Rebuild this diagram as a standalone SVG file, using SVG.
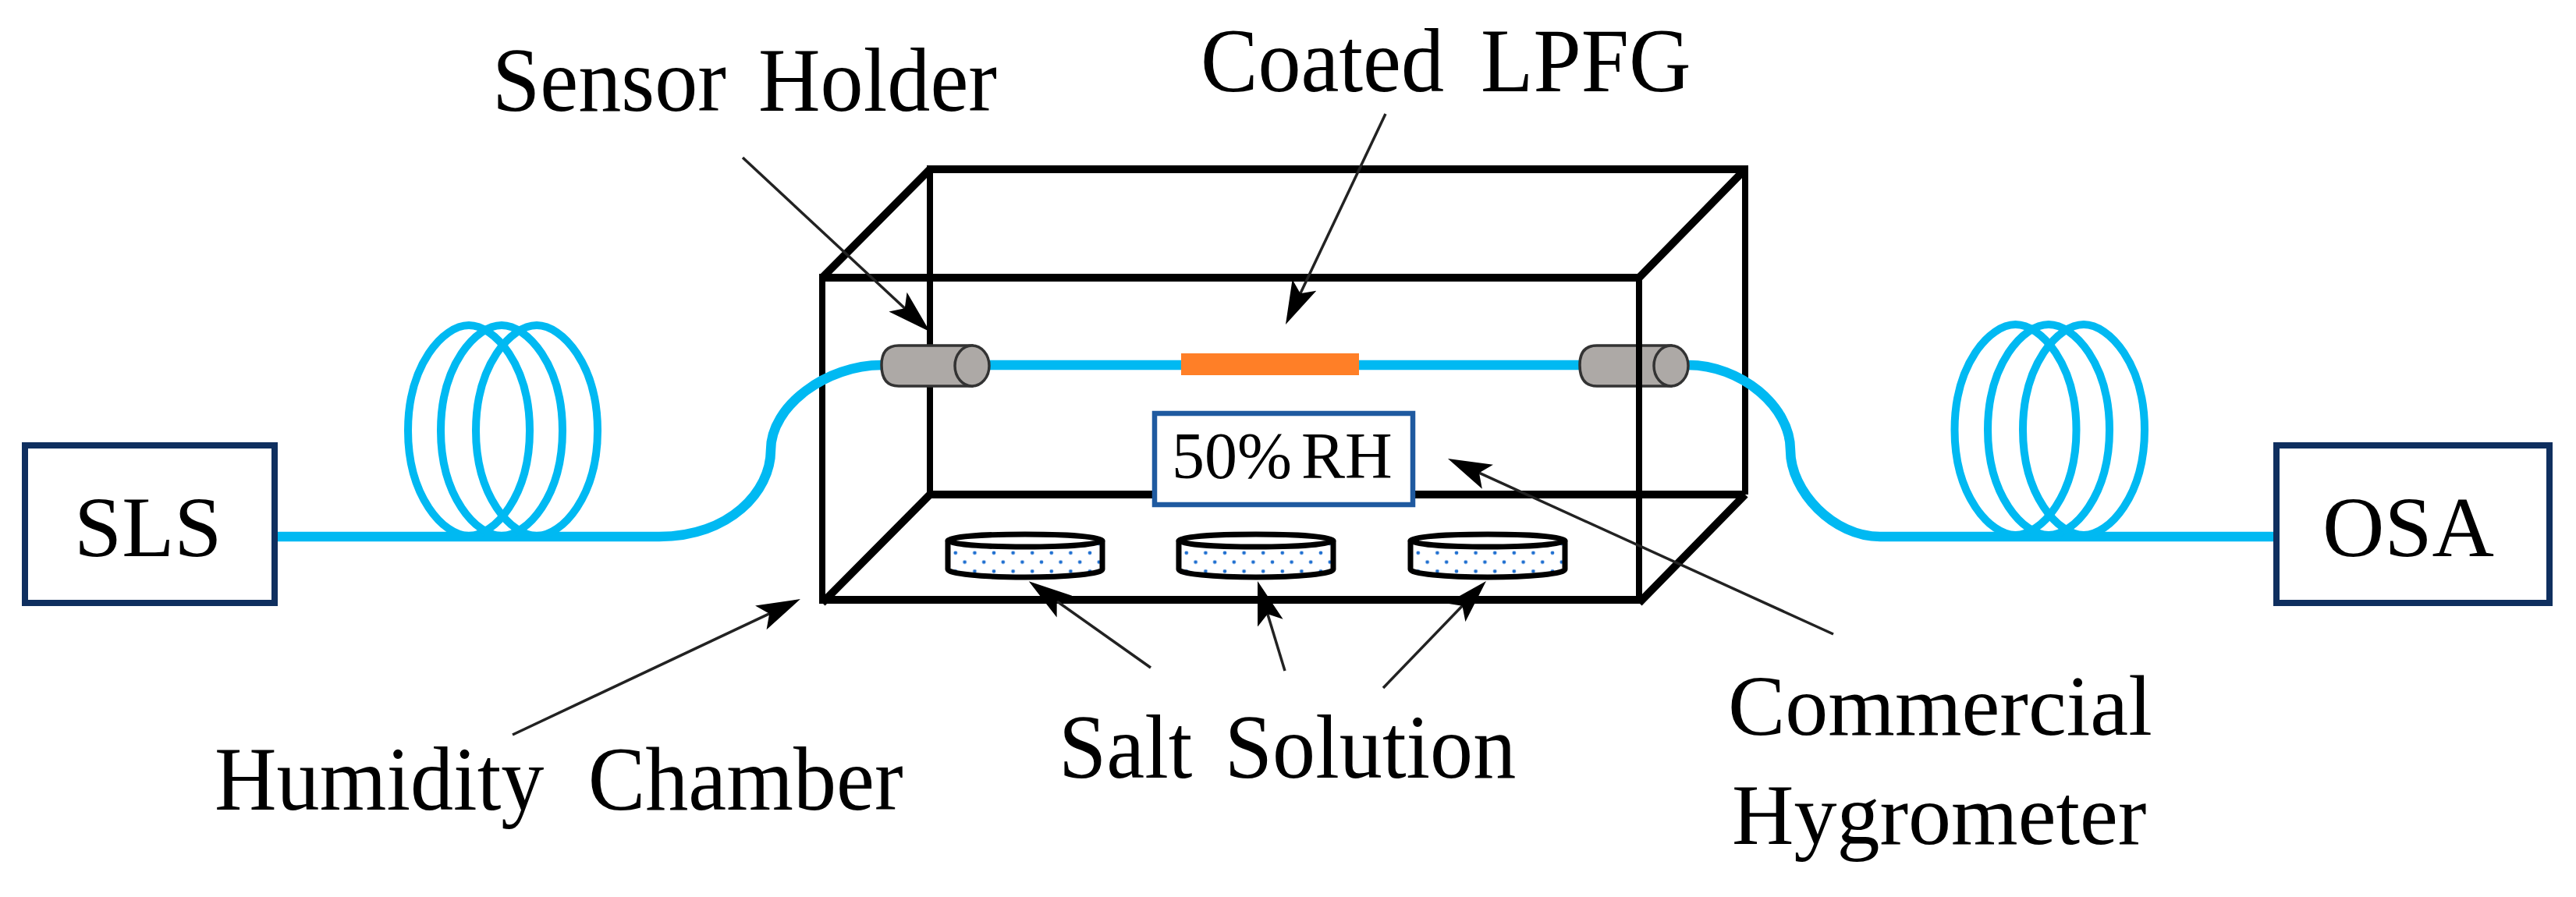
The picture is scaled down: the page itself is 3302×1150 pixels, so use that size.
<svg xmlns="http://www.w3.org/2000/svg" width="3302" height="1150" viewBox="0 0 3302 1150">
<style>
text{font-family:"Liberation Serif","Times New Roman",serif;font-size:110px;fill:#000}
.tall{font-size:116px}
.chamber{fill:none;stroke:#000;stroke-width:8;stroke-linejoin:miter}
.thick{fill:none;stroke:#000;stroke-width:10}
.fiber{fill:none;stroke:#00B9F2;stroke-width:12.5}
.coil{fill:none;stroke:#00B9F2;stroke-width:10}
.inst{fill:#fff;stroke:#0F2F5F;stroke-width:8}
.holder{fill:#ADA9A6;stroke:#333;stroke-width:3.5}
.dishline{fill:none;stroke:#000;stroke-width:7}
.arrow{fill:none;stroke:#222;stroke-width:3.5;marker-end:url(#head)}
</style>
<defs>
<marker id="head" markerUnits="userSpaceOnUse" markerWidth="58" markerHeight="36" viewBox="0 0 58 36" refX="41" refY="18" orient="auto">
<path d="M0,1 L56,18 L0,35 L12,18 Z" fill="#000"/>
</marker>
<pattern id="dots" patternUnits="userSpaceOnUse" width="24.6" height="23.6">
<circle cx="21.6" cy="4" r="2.4" fill="#1F6FD0"/>
<circle cx="9.8" cy="15.8" r="2.4" fill="#1F6FD0"/>
</pattern>
<path id="loop" class="coil" d="m-78,0 c0,-84 45,-135 78,-135 c33,0 78,51 78,135 c0,84 -45,135 -78,135 c-33,0 -78,-51 -78,-135 z"/>
<g id="dish">
<path d="M0,0 V37 A99 10 0 0 0 198,37 V0 Z" fill="#fff"/>
<path d="M0,0 V37 A99 10 0 0 0 198,37 V0 Z" fill="url(#dots)"/>
<path class="dishline" d="M0,0 V37 A99 10 0 0 0 198,37 V0"/>
<ellipse class="dishline" cx="99" cy="0" rx="99" ry="8" style="fill:#fff"/>
</g>
</defs>
<rect width="3302" height="1150" fill="#fff"/>

<g id="humidity-chamber">
<path class="chamber" d="M1192,217 V634 M2237,217 V634 M1054,356 V773 M2101,356 V773"/>
<path class="thick" d="M1188,217 H2241 M1050,356 H2105 M1192,634 H2237 M1050,769 H2105"/>
<path class="thick" d="M1054,356 L1192,217 M2101,356 L2237,217 M1054,773 L1192,634 M2101,773 L2237,634"/>
</g>

<g id="fiber-left">
<path class="fiber" d="M356,688 H845 C935,688 988,630 988,577 C988,520 1060,468 1130,468"/>
<use href="#loop" x="601" y="552"/>
<use href="#loop" x="643" y="552"/>
<use href="#loop" x="688" y="552"/>
</g>
<g id="fiber-middle">
<path class="fiber" d="M1268,468 H2026"/>
</g>
<g id="fiber-right">
<path class="fiber" d="M2164,468 C2230,468 2295,520 2295,577 C2295,630 2350,688 2410,688 H2914"/>
<use href="#loop" x="2583.5" y="551"/>
<use href="#loop" x="2626" y="551"/>
<use href="#loop" x="2671" y="551"/>
</g>

<g id="sensor-holder-left">
<path class="holder" d="M1152,443 H1246 V495 H1152 Q1130,495 1130,468 Q1130,443 1152,443 Z"/>
<ellipse class="holder" cx="1246" cy="469" rx="22" ry="26"/>
</g>
<g id="sensor-holder-right">
<path class="holder" d="M2047,443 H2142 V495 H2047 Q2025,495 2025,468 Q2025,443 2047,443 Z"/>
<ellipse class="holder" cx="2142" cy="469" rx="22" ry="26"/>
<path class="chamber" d="M2101,436 V500"/>
</g>

<g id="coated-lpfg"><rect x="1514" y="453" width="228" height="28" fill="#FF7F27"/></g>

<g id="hygrometer">
<rect x="1480" y="530" width="331" height="117" fill="#fff" stroke="#1F5AA0" stroke-width="6.5"/>
<text x="1502" y="613" style="font-size:84px">50%<tspan x="1668">RH</tspan></text>
</g>

<g id="salt-dishes">
<use href="#dish" x="1215" y="693"/>
<use href="#dish" x="1511" y="693"/>
<use href="#dish" x="1808" y="693"/>
</g>

<g id="sls"><rect class="inst" x="32" y="571" width="320" height="202"/><text x="95" y="713">SLS</text></g>
<g id="osa"><rect class="inst" x="2918" y="571" width="350" height="202"/><text x="2977" y="713">OSA</text></g>

<g id="connectors">
<line class="arrow" x1="952" y1="202" x2="1181" y2="415"/>
<line class="arrow" x1="1776" y1="146" x2="1654.4" y2="402.5"/>
<line class="arrow" x1="657" y1="942" x2="1012.4" y2="774.4"/>
<line class="arrow" x1="1475" y1="856" x2="1331" y2="754"/>
<line class="arrow" x1="1647" y1="860" x2="1616.4" y2="759.4"/>
<line class="arrow" x1="1773" y1="882" x2="1894.6" y2="755.8"/>
<line class="arrow" x1="2350" y1="813" x2="1869.6" y2="594.2"/>
</g>

<g id="labels">
<text class="tall" transform="translate(631,142) scale(.95,1)" x="0" y="0">Sensor<tspan x="359">Holder</tspan></text>
<text class="tall" transform="translate(1539,117) scale(.95,1)" x="0" y="0">Coated<tspan x="378">LPFG</tspan></text>
<text class="tall" transform="translate(275,1038) scale(.95,1)" x="0" y="0">Humidity<tspan x="504">Chamber</tspan></text>
<text class="tall" transform="translate(1357,997) scale(.95,1)" x="0" y="0">Salt<tspan x="224">Solution</tspan></text>
<text x="2215" y="942">Commercial</text>
<text x="2220" y="1082">Hygrometer</text>
</g>
</svg>
